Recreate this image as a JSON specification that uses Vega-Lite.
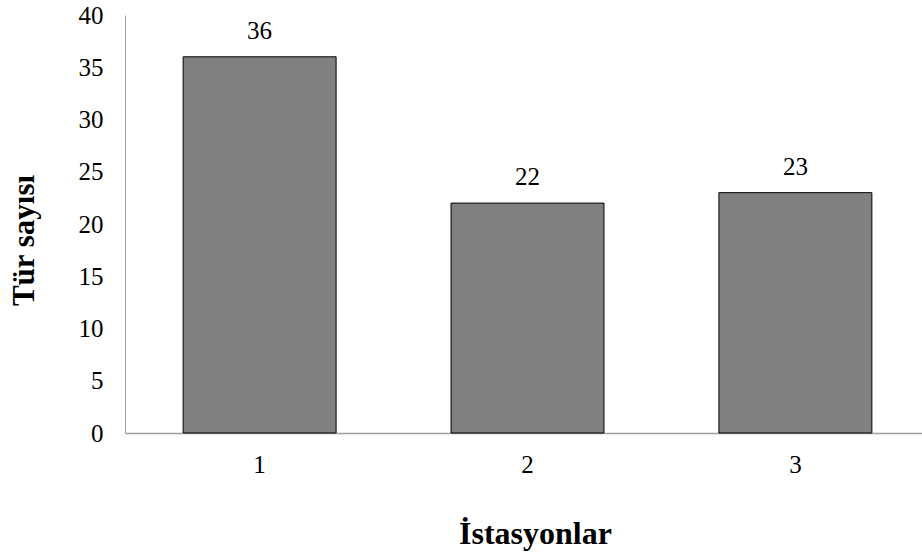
{
  "$schema": "https://vega.github.io/schema/vega-lite/v6.json",
  "width": 797,
  "height": 418,
  "autosize": {"type": "none"},
  "padding": {"left": 125, "top": 15, "right": 0, "bottom": 126},
  "background": "#ffffff",
  "config": {"view": {"stroke": null}, "font": "Liberation Serif", "axis": {"labelFont": "Liberation Serif", "titleFont": "Liberation Serif"}, "text": {"font": "Liberation Serif"}},
  "data": {"values": [
    {"istasyon": "1", "tur": 36},
    {"istasyon": "2", "tur": 22},
    {"istasyon": "3", "tur": 23}
  ]},
  "encoding": {
    "x": {
      "field": "istasyon", "type": "nominal", "sort": null,
      "scale": {"range": [0, 805], "paddingInner": 0.429, "paddingOuter": 0.217},
      "axis": {
        "ticks": false, "tickSize": 0, "grid": false, "labelAngle": 0,
        "labelFontSize": 25, "labelColor": "#000000", "labelBaseline": "alphabetic", "labelPadding": 39,
        "domainColor": "#a0a0a0", "domainWidth": 1.5,
        "title": "İstasyonlar", "titleFontSize": 32, "titleFontWeight": "bold",
        "titleColor": "#000000", "titleBaseline": "alphabetic", "titleAlign": "center", "titleX": 410, "titleY": 110
      }
    },
    "y": {
      "field": "tur", "type": "quantitative",
      "scale": {"domain": [0, 40], "nice": false},
      "axis": {
        "values": [0, 5, 10, 15, 20, 25, 30, 35, 40],
        "ticks": false, "tickSize": 0, "grid": false,
        "labelFontSize": 25, "labelColor": "#000000", "labelPadding": 22,
        "domainColor": "#a0a0a0", "domainWidth": 1,
        "title": "Tür sayısı", "titleFontSize": 31, "titleFontWeight": "bold",
        "titleColor": "#000000", "titleAngle": -90, "titleBaseline": "alphabetic", "titleAlign": "center",
        "titleX": -92, "titleY": 225
      }
    }
  },
  "layer": [
    {"mark": {"type": "bar", "color": "#808080", "stroke": "#000000", "strokeWidth": 1}},
    {
      "mark": {"type": "text", "dy": -18, "baseline": "alphabetic", "fontSize": 25, "font": "Liberation Serif", "color": "#000000"},
      "encoding": {"text": {"field": "tur", "type": "quantitative"}}
    }
  ]
}
